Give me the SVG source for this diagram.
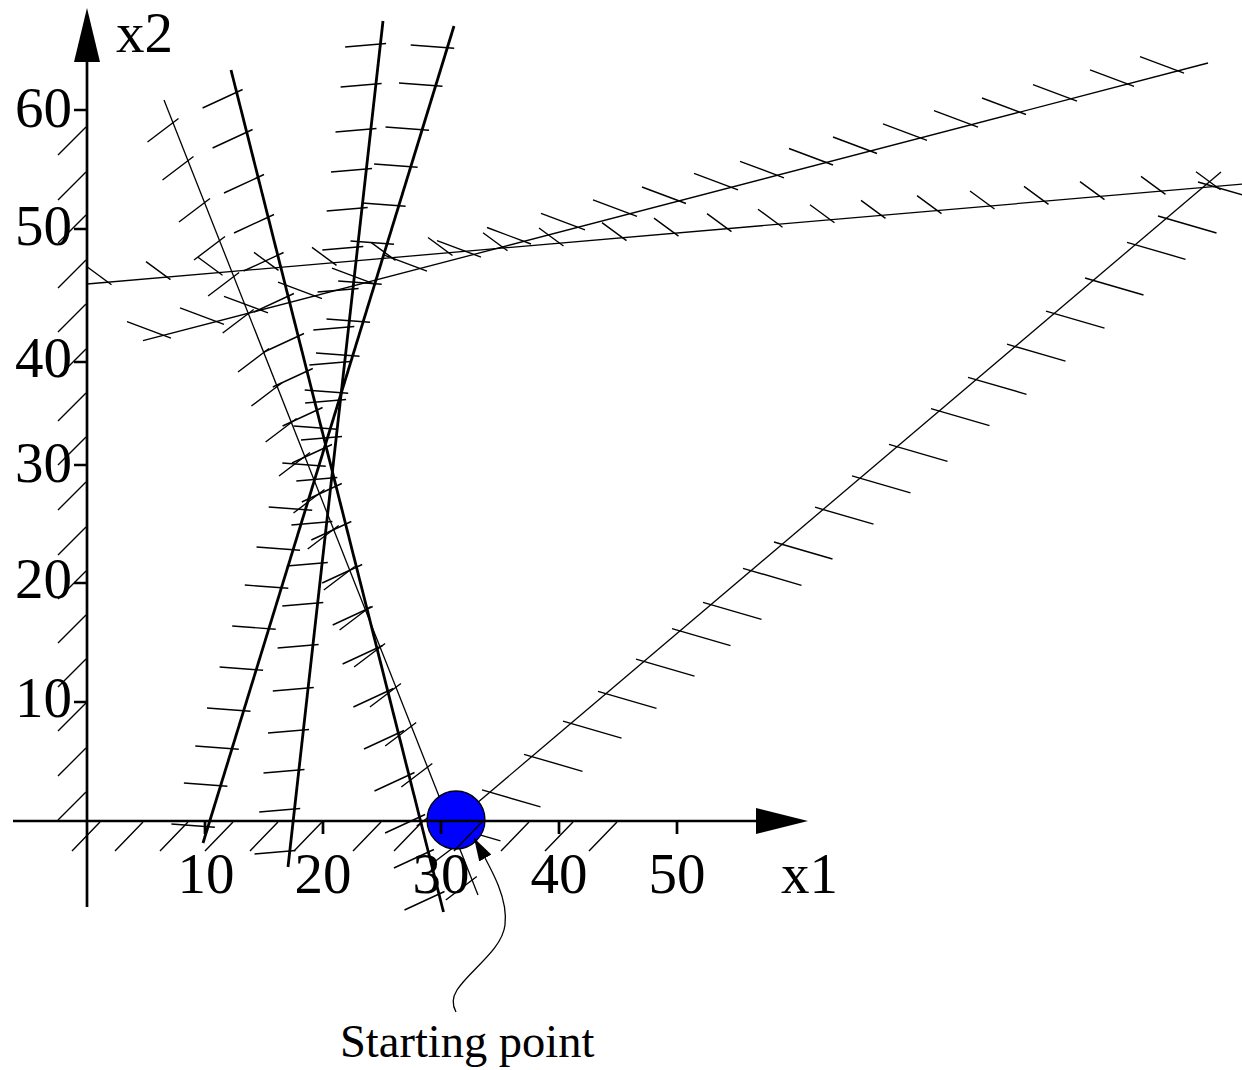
<svg xmlns="http://www.w3.org/2000/svg" width="1242" height="1070" viewBox="0 0 1242 1070">
<style>
.thick{stroke:#000;stroke-width:2.8;fill:none}
.thin{stroke:#000;stroke-width:1.3;fill:none}
.h{stroke:#000;stroke-width:1.4;fill:none}
.ax{stroke:#000;stroke-width:2.7;fill:none}
.lbl{font-family:"Liberation Serif","Times New Roman",serif;font-size:57px;fill:#000}
.cap{font-family:"Liberation Serif","Times New Roman",serif;font-size:46.5px;fill:#000}
</style>
<defs>
<marker id="arr" viewBox="0 0 23 14" refX="23" refY="7" markerWidth="23" markerHeight="14" markerUnits="userSpaceOnUse" orient="auto">
<path d="M0,0 L23,7 L0,14 z" fill="#000"/>
</marker>
</defs>
<rect width="1242" height="1070" fill="#fff"/>

<g id="constraint-E">
<line class="thin" x1="143" y1="340.7" x2="1208" y2="63"/>
<path class="h" d="M127,321.7l44,16.5M180,307.8l44,16.5M224,296.3l44,16.5M278,282.2l44,16.5M332,268.1l44,16.5M383,254.7l44,16.5M437,240.6l44,16.5M487,227.5l44,16.5M541,213.4l44,16.5M593,199.8l44,16.5M642,187l44,16.5M694,173.4l44,16.5M740,161.3l44,16.5M789,148.5l44,16.5M833,137l44,16.5M883,123.9l44,16.5M934,110.6l44,16.5M982,98l44,16.5M1033,84.7l44,16.5M1090,69.8l44,16.5M1140,56.7l44,16.5"/>
</g>

<g id="constraint-F">
<line class="thin" x1="87" y1="284" x2="1250" y2="183.5"/>
<path class="h" d="M87,266.7l24.5,18M146,261.6l24.5,18M198,257.2l24.5,18M254,252.4l24.5,18M312,247.4l24.5,18M371,242.4l24.5,18M428,237.5l24.5,18M483,232.8l24.5,18M539,228l24.5,18M602,222.6l24.5,18M654,218.1l24.5,18M707,213.6l24.5,18M758,209.2l24.5,18M810,204.7l24.5,18M861,200.4l24.5,18M917,195.6l24.5,18M970,191l24.5,18M1024,186.4l24.5,18M1080,181.6l24.5,18M1141,176.4l24.5,18M1196,171.7l24.5,18"/>
</g>

<g id="constraint-G">
<line class="thin" x1="457" y1="820" x2="1221" y2="172"/>
<path class="h" d="M1198,182l58.5,17M1158,216l58.5,17M1127,242.3l58.5,17M1085,278l58.5,17M1046,311.1l58.5,17M1007,344.2l58.5,17M968,377.3l58.5,17M931,408.7l58.5,17M889,444.4l58.5,17M852,475.8l58.5,17M815,507.2l58.5,17M774,542l58.5,17M743,568.3l58.5,17M703,602.3l58.5,17M672,628.6l58.5,17M636,659.2l58.5,17M598,691.4l58.5,17M563,721.1l58.5,17M524,754.3l58.5,17M482,789.9l58.5,17M442,823.9l58.5,17"/>
</g>

<g id="constraint-A">
<line class="thick" x1="231" y1="70" x2="443.5" y2="912"/>
<path class="h" d="M202.6,108l40,-18.5M212.6,148l40,-18.5M224,193l40,-18.5M234,233l40,-18.5M243.6,271l40,-18.5M253.9,312l40,-18.5M264,352l40,-18.5M272.8,387l40,-18.5M282.6,426l40,-18.5M292,463l40,-18.5M301.8,502l40,-18.5M311.3,540l40,-18.5M322.2,583l40,-18.5M332.7,625l40,-18.5M342.6,664l40,-18.5M353.4,707l40,-18.5M364,749l40,-18.5M374.5,791l40,-18.5M385.1,833l40,-18.5M393.9,868l40,-18.5M404.5,910l40,-18.5"/>
</g>

<g id="constraint-B">
<line class="thin" x1="164" y1="100" x2="478" y2="895"/>
<path class="h" d="M147.5,142l31,-23.5M162.5,180l31,-23.5M179,222l31,-23.5M194,260l31,-23.5M208.1,296l31,-23.5M222.7,333l31,-23.5M238,372l31,-23.5M251.4,406l31,-23.5M265.6,442l31,-23.5M279,476l31,-23.5M293.5,513l31,-23.5M307.7,549l31,-23.5M323.8,590l31,-23.5M339.6,630l31,-23.5M354.1,667l31,-23.5M369.9,707l31,-23.5M385.2,746l31,-23.5M401.3,787l31,-23.5M416.7,826l31,-23.5M431.6,864l31,-23.5M445.8,900l31,-23.5"/>
</g>

<g id="constraint-C">
<line class="thick" x1="383" y1="21" x2="288" y2="867"/>
<path class="h" d="M345.1,47l41,-3.5M340.6,87l41,-3.5M335.5,132l41,-3.5M331,172l41,-3.5M326.7,211l41,-3.5M322.3,250l41,-3.5M317.6,292l41,-3.5M313.3,330l41,-3.5M309.4,365l41,-3.5M305.1,403l41,-3.5M301,440l41,-3.5M296.3,481l41,-3.5M291.4,525l41,-3.5M286.8,566l41,-3.5M282.3,606l41,-3.5M277.6,648l41,-3.5M272.8,691l41,-3.5M268,733l41,-3.5M263.5,773l41,-3.5M259.2,812l41,-3.5M254.5,854l41,-3.5"/>
</g>

<g id="constraint-D">
<line class="thick" x1="454" y1="26" x2="203" y2="843"/>
<path class="h" d="M410.7,45l43.5,3.3M399,83l43.5,3.3M385.5,127l43.5,3.3M374.1,164l43.5,3.3M362.1,203l43.5,3.3M350.5,241l43.5,3.3M338.2,281l43.5,3.3M326.5,319l43.5,3.3M316,353l43.5,3.3M304.7,390l43.5,3.3M293.6,426l43.5,3.3M282.3,463l43.5,3.3M268.7,507l43.5,3.3M256.5,547l43.5,3.3M244.8,585l43.5,3.3M232.2,626l43.5,3.3M219.6,667l43.5,3.3M207,708l43.5,3.3M195.3,746l43.5,3.3M183.9,783l43.5,3.3M171.4,824l43.5,3.3"/>
</g>

<g id="starting-point">
<circle cx="456" cy="820" r="29" fill="#0000ff" stroke="#000" stroke-width="1.3"/>
</g>

<g id="axis-x2">
<line class="ax" x1="87" y1="907" x2="87" y2="50"/>
<polygon points="87,8 74,62 100,62" fill="#000"/>
<path class="ax" d="M74,110H87M74,229H87M74,362H87M74,465H87M74,583H87M74,702H87"/>
<path class="h" d="M86,127l-28,28M86,172l-28,28M86,215l-28,28M86,260l-28,28M86,304l-28,28M86,349l-28,28M86,393l-28,28M86,437l-28,28M86,482l-28,28M86,527l-28,28M86,571l-28,28M86,615l-28,28M86,659l-28,28M86,703l-28,28M86,748l-28,28M86,792l-28,28"/>
<text class="lbl" x="72" y="127" text-anchor="end">60</text>
<text class="lbl" x="72" y="245" text-anchor="end">50</text>
<text class="lbl" x="72" y="377" text-anchor="end">40</text>
<text class="lbl" x="72" y="482" text-anchor="end">30</text>
<text class="lbl" x="72" y="598" text-anchor="end">20</text>
<text class="lbl" x="72" y="717" text-anchor="end">10</text>
<text class="lbl" x="116" y="52">x2</text>
</g>

<g id="axis-x1">
<line class="ax" x1="13" y1="821" x2="770" y2="821"/>
<polygon points="808,821 756,808 756,834" fill="#000"/>
<path class="ax" d="M205,821V834M323,821V834M441,821V834M559,821V834M677,821V834"/>
<path class="h" d="M100,822l-28,29M143,822l-28,29M188,822l-28,29M233,822l-28,29M278,822l-28,29M322,822l-28,29M381,822l-28,29M422,822l-28,29M482,822l-28,29M529,822l-28,29M573,822l-28,29M617,822l-28,29"/>
<text class="lbl" x="206" y="893" text-anchor="middle">10</text>
<text class="lbl" x="323" y="893" text-anchor="middle">20</text>
<text class="lbl" x="441" y="893" text-anchor="middle">30</text>
<text class="lbl" x="559" y="893" text-anchor="middle">40</text>
<text class="lbl" x="677" y="893" text-anchor="middle">50</text>
<text class="lbl" x="781" y="893">x1</text>
</g>

<g id="connectors">
<path class="thin" d="M456,1012 C452,1005 452,998 457,990 C470,970 502,950 505,925 C508,900 495,875 474,838" marker-end="url(#arr)"/>
</g>

<g id="label-starting-point">
<text class="cap" x="340" y="1057">Starting point</text>
</g>
</svg>
